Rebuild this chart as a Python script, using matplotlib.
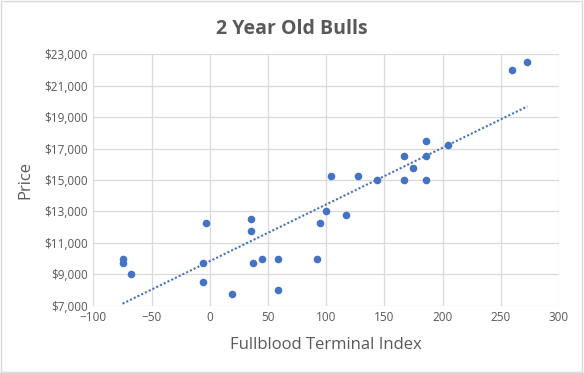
import numpy as np
import matplotlib
matplotlib.use("Agg")
import matplotlib.pyplot as plt
from matplotlib.ticker import FuncFormatter

index_vals = [-75, -75, -68, -3, -6, -6, 19, 35, 35, 37.5, 44.5, 58.5, 58.5, 92.5, 95, 100,
              117, 104.5, 127, 144, 167, 186, 167, 186, 186, 174.5, 205, 260, 273]
prices = [10000, 9750, 9000, 12250, 9750, 8500, 7750, 12500, 11750, 9750, 10000, 10000, 8000,
          10000, 12250, 13000, 12750, 15250, 15250, 15000, 15000, 15000, 16500, 16500, 17500,
          15750, 17250, 22000, 22500]
title = "2 Year Old Bulls"
xlabel = "Fullblood Terminal Index"
ylabel = "Price"
xticks = [-100, -50, 0, 50, 100, 150, 200, 250, 300]
yticks = [7000, 9000, 11000, 13000, 15000, 17000, 19000, 21000, 23000]

plt.rcParams['font.family'] = ['Open Sans', 'DejaVu Sans']
fig = plt.figure(figsize=(5.84, 3.73), dpi=100)
ax = fig.add_axes([0.160, 0.180, 0.797, 0.675])

x = np.array(index_vals)
y = np.array(prices)
ax.scatter(x, y, s=30, color='#4472C4', zorder=3, linewidths=0)
m, b = np.polyfit(x, y, 1)
xs = np.linspace(x.min(), x.max(), 50)
ax.plot(xs, m * xs + b, linestyle=(0, (1, 1.0)), color='#4472C4', linewidth=1.5, zorder=2)

ax.set_xlim(-100, 300)
ax.set_ylim(7000, 23000)
ax.set_xticks(xticks)
ax.set_yticks(yticks)
ax.yaxis.set_major_formatter(FuncFormatter(lambda v, p: "${:,.0f}".format(v)))
ax.grid(True, color='#D9D9D9', linewidth=0.9)
ax.set_axisbelow(True)
for s in ax.spines.values():
    s.set_visible(False)
ax.tick_params(length=0, colors='#595959', labelsize=8.5, pad=4)
ax.set_xlabel(xlabel, fontsize=12, color='#595959', labelpad=9)
ax.set_ylabel(ylabel, fontsize=12, color='#595959', labelpad=8)
fig.text(0.5, 0.922, title, ha='center', va='center', fontsize=14, fontweight='bold', color='#595959')
fig.patches.append(plt.Rectangle((0.002, 0.003), 0.995, 0.994, transform=fig.transFigure,
                                 fill=False, edgecolor='#D9D9D9', linewidth=1))
fig.savefig("out.png", dpi=100)
